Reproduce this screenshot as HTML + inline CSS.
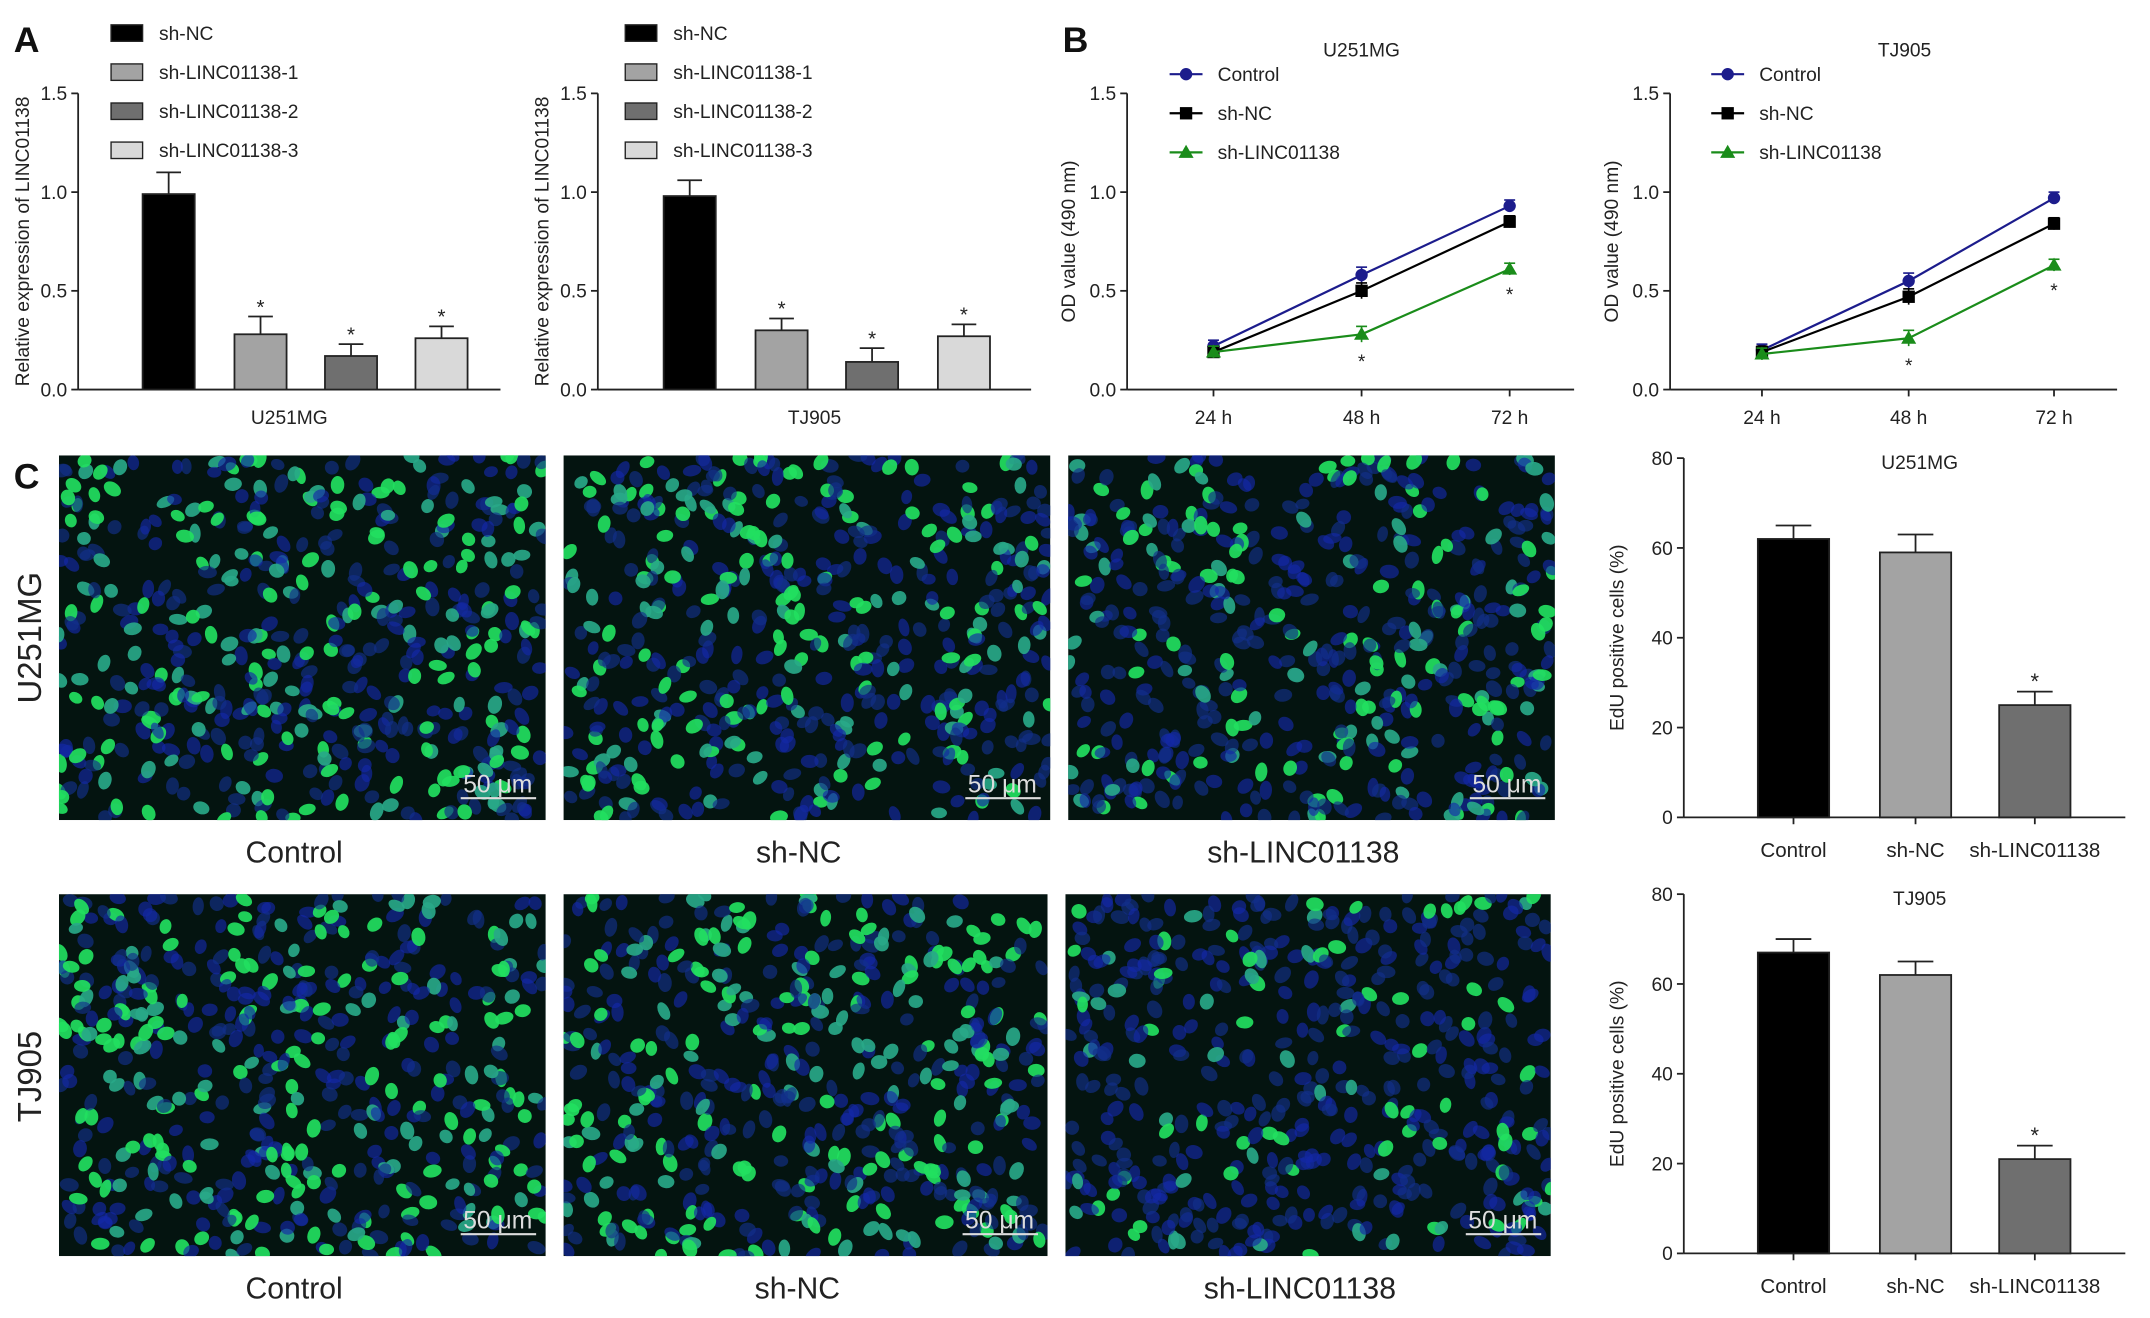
<!DOCTYPE html>
<html><head><meta charset="utf-8"><style>
html,body{margin:0;padding:0;background:#fff;}
svg{display:block;font-family:"Liberation Sans",sans-serif;}
</style></head><body>
<svg id="fig" width="2150" height="1318" viewBox="0 0 1568 961" xmlns="http://www.w3.org/2000/svg"></svg>
<script>
// ---- Panel A data ----
const aCats = ['sh-NC','sh-LINC01138-1','sh-LINC01138-2','sh-LINC01138-3'];
const aU251 = [0.99,0.28,0.17,0.26];
const aU251Err = [0.11,0.09,0.06,0.06];
const aTJ905 = [0.98,0.30,0.14,0.27];
const aTJ905Err = [0.08,0.06,0.07,0.06];
const aTicks = [0,0.5,1.0,1.5];
// ---- Panel B data ----
const bTimes = ['24 h','48 h','72 h'];
const bU251Control = [0.22,0.58,0.93];
const bU251NC = [0.19,0.50,0.85];
const bU251Sh = [0.19,0.28,0.61];
const bTJControl = [0.20,0.55,0.97];
const bTJNC = [0.19,0.47,0.84];
const bTJSh = [0.18,0.26,0.63];
const bErr = [0.03,0.04,0.03];
// ---- Panel C data ----
const cCats = ['Control','sh-NC','sh-LINC01138'];
const cU251 = [62,59,25];
const cU251Err = [3,4,3];
const cTJ905 = [67,62,21];
const cTJ905Err = [3,3,3];
const cTicks = [0,20,40,60,80];

const NS='http://www.w3.org/2000/svg';
const svg=document.getElementById('fig');
function el(tag,attrs,parent,txt){const e=document.createElementNS(NS,tag);for(const k in attrs)e.setAttribute(k,attrs[k]);if(txt!==undefined)e.textContent=txt;(parent||svg).appendChild(e);return e;}
function grp(name){const g=el('g',{});return g;}
function txt(g,x,y,s,size,anchor,name,extra){const t=el('text',Object.assign({x:x,y:y,'font-size':size,'text-anchor':anchor||'middle',fill:'#222'},extra||{}),g,s);return t;}

[['A',10,38],['B',775,38],['C',10,356]].forEach(p=>{txt(svg,p[1],p[2],p[0],26,'start','panel-label-'+p[0].toLowerCase(),{'font-weight':'bold',fill:'#111'});});

function yAxis(g,x0,y0,yTop,ticks,maxV,fmt,title,titleX){
  const ys=v=>y0-(v/maxV)*(y0-yTop);
  el('line',{x1:x0,y1:y0,x2:x0,y2:yTop,stroke:'#222','stroke-width':1.3},g);
  ticks.forEach(v=>{el('line',{x1:x0-5,y1:ys(v),x2:x0,y2:ys(v),stroke:'#222','stroke-width':1.3},g);
    txt(g,x0-8,ys(v)+5,fmt(v),14,'end','y-tick-label');});
  txt(g,titleX,(y0+yTop)/2,title,14,'middle','y-axis-title',{transform:'rotate(-90 '+titleX+' '+(y0+yTop)/2+')'});
  return ys;
}

// ---- Panel A ----
const aColors=['#000','#a3a3a3','#6f6f6f','#d9d9d9'];
function panelA(name,x0,xEnd,centers,vals,errs,label,legX){
  const g=grp(name);
  const ys=yAxis(g,x0,284,68,aTicks,1.5,v=>v.toFixed(1),'Relative expression of LINC01138',x0-36);
  el('line',{x1:x0,y1:284,x2:xEnd,y2:284,stroke:'#222','stroke-width':1.3},g);
  vals.forEach((v,i)=>{const cx=centers[i],w=38;
    const eTop=ys(v+errs[i]);
    el('line',{x1:cx,y1:ys(v),x2:cx,y2:eTop,stroke:'#222','stroke-width':1.3},g);
    el('line',{x1:cx-9,y1:eTop,x2:cx+9,y2:eTop,stroke:'#222','stroke-width':1.3},g);
    const r=el('rect',{x:cx-w/2,y:ys(v),width:w,height:284-ys(v),fill:aColors[i],stroke:'#222','stroke-width':1.3},g);
    
    if(i>0)txt(g,cx,eTop-2,'*',15,'middle','significance-star');
  });
  txt(g,(x0+xEnd)/2,309,label,14,'middle','x-axis-label');
  aCats.forEach((c,i)=>{const y=24+i*28.5;
    el('rect',{x:legX,y:y-6,width:23,height:12,fill:aColors[i],stroke:'#222','stroke-width':1},g);
    txt(g,legX+35,y+5,c,14,'start','legend-entry');});
}
panelA('chart-a-u251mg',57,365,[123,190,256,322],aU251,aU251Err,'U251MG',81);
panelA('chart-a-tj905',436,752,[503,570,636,703],aTJ905,aTJ905Err,'TJ905',456);

// ---- Panel B ----
function marker(g,type,x,y,c){
  if(type==='circle')el('circle',{cx:x,cy:y,r:4.5,fill:c},g);
  else if(type==='square')el('rect',{x:x-4.5,y:y-4.5,width:9,height:9,fill:c},g);
  else el('polygon',{points:(x)+','+(y-5.5)+' '+(x-5.5)+','+(y+4)+' '+(x+5.5)+','+(y+4),fill:c},g);
}
function panelB(name,x0,xs,ctrl,nc,sh,title,legX){
  const g=grp(name);
  const ys=yAxis(g,x0,284,68,aTicks,1.5,v=>v.toFixed(1),'OD value (490 nm)',x0-38);
  el('line',{x1:x0,y1:284,x2:x0+326,y2:284,stroke:'#222','stroke-width':1.3},g);
  xs.forEach((x,i)=>{el('line',{x1:x,y1:284,x2:x,y2:289,stroke:'#222','stroke-width':1.3},g);txt(g,x,309,bTimes[i],14,'middle','x-tick-label');});
  txt(g,(x0+x0+326)/2+8,41,title,14,'middle','chart-title');
  const series=[[ctrl,'#1c1c8c','circle','Control'],[nc,'#000','square','sh-NC'],[sh,'#1a8c1a','triangle','sh-LINC01138']];
  series.forEach((s,si)=>{
    const pts=s[0].map((v,i)=>xs[i]+','+ys(v)).join(' ');
    const l=el('polyline',{points:pts,fill:'none',stroke:s[1],'stroke-width':1.6},g);
    
    s[0].forEach((v,i)=>{el('line',{x1:xs[i],y1:ys(v-bErr[i]),x2:xs[i],y2:ys(v+bErr[i]),stroke:s[1],'stroke-width':1.2},g);
      el('line',{x1:xs[i]-4,y1:ys(v+bErr[i]),x2:xs[i]+4,y2:ys(v+bErr[i]),stroke:s[1],'stroke-width':1.2},g);
      marker(g,s[2],xs[i],ys(v),s[1]);});
    const ly=54+si*28.5;
    el('line',{x1:legX-12,y1:ly,x2:legX+12,y2:ly,stroke:s[1],'stroke-width':1.6},g);
    marker(g,s[2],legX,ly,s[1]);
    txt(g,legX+23,ly+5,s[3],14,'start','legend-entry');
  });
  [1,2].forEach(i=>txt(g,xs[i],ys(sh[i]-bErr[i])+19,'*',14,'middle','significance-star'));
}
panelB('chart-b-u251mg',822,[885,993,1101],bU251Control,bU251NC,bU251Sh,'U251MG',865);
panelB('chart-b-tj905',1218,[1285,1392,1498],bTJControl,bTJNC,bTJSh,'TJ905',1260);

// ---- Panel C images ----
const imgs=[[43,332,355,266,0.42,'Control','u251mg'],[411,332,355,266,0.38,'sh-NC','u251mg'],[779,332,355,266,0.3,'sh-LINC01138','u251mg'],
            [43,652,355,264,0.42,'Control','tj905'],[411,652,353,264,0.4,'sh-NC','tj905'],[777,652,354,264,0.16,'sh-LINC01138','tj905']];
let seed=7;function rnd(){seed=(seed*16807)%2147483647;return seed/2147483647;}
imgs.forEach((im,k)=>{
  const g=grp('micrograph-'+im[6]+'-'+im[5].toLowerCase());
  const cid='clip'+k;const cp=el('clipPath',{id:cid},g);el('rect',{x:im[0],y:im[1],width:im[2],height:im[3]},cp);
  const inner=el('g',{'clip-path':'url(#'+cid+')'},g);
  el('rect',{x:im[0],y:im[1],width:im[2],height:im[3],fill:'#041410'},inner);
  const n=Math.round(im[2]*im[3]/190);
  for(let i=0;i<n;i++){const x=im[0]+rnd()*im[2],y=im[1]+rnd()*im[3];const gr=rnd()<im[4];
    const col=gr?(rnd()<0.6?'#22e060':'#28a888'):(rnd()<0.5?'#1428a8':'#12308a');
    el('ellipse',{cx:x,cy:y,rx:5+rnd()*2,ry:3.8+rnd()*1.4,fill:col,opacity:gr?0.92:0.65,transform:'rotate('+Math.round(rnd()*180)+' '+x+' '+y+')'},inner);}
  const sx=im[0]+im[2]-62,sy=im[1]+im[3]-16;
  txt(g,sx+27,sy-4,'50 μm',18,'middle','scale-bar-label',{fill:'#ddd'});
  el('line',{x1:sx,y1:sy,x2:sx+55,y2:sy,stroke:'#ddd','stroke-width':1.5},g);
  txt(svg,im[0]+im[2]/2-6,im[1]+im[3]+31,im[5],22,'middle','image-caption');
});
txt(svg,30,465,'U251MG',24,'middle','row-label-u251mg',{transform:'rotate(-90 30 465)'});
txt(svg,30,785,'TJ905',24,'middle','row-label-tj905',{transform:'rotate(-90 30 785)'});

// ---- Panel C bar charts ----
const cColors=['#000','#a3a3a3','#6f6f6f'];
function panelC(name,y0,yTop,vals,errs,title){
  const g=grp(name);
  const ys=yAxis(g,1228,y0,yTop,cTicks,80,v=>String(v),'EdU positive cells (%)',1184);
  el('line',{x1:1228,y1:y0,x2:1550,y2:y0,stroke:'#222','stroke-width':1.3},g);
  txt(g,1400,yTop+8,title,14,'middle','chart-title');
  [1308,1397,1484].forEach((cx,i)=>{const v=vals[i],w=52,eTop=ys(v+errs[i]);
    el('line',{x1:cx,y1:ys(v),x2:cx,y2:eTop,stroke:'#222','stroke-width':1.3},g);
    el('line',{x1:cx-13,y1:eTop,x2:cx+13,y2:eTop,stroke:'#222','stroke-width':1.3},g);
    const r=el('rect',{x:cx-w/2,y:ys(v),width:w,height:y0-ys(v),fill:cColors[i],stroke:'#222','stroke-width':1.3},g);
    
    el('line',{x1:cx,y1:y0,x2:cx,y2:y0+5,stroke:'#222','stroke-width':1.3},g);
    txt(g,cx,y0+29,cCats[i],15,'middle','x-tick-label');
    if(i===2)txt(g,cx,eTop-2,'*',16,'middle','significance-star');
  });
}
panelC('chart-c-u251mg',596,334,cU251,cU251Err,'U251MG');
panelC('chart-c-tj905',914,652,cTJ905,cTJ905Err,'TJ905');
</script>
</body></html>
